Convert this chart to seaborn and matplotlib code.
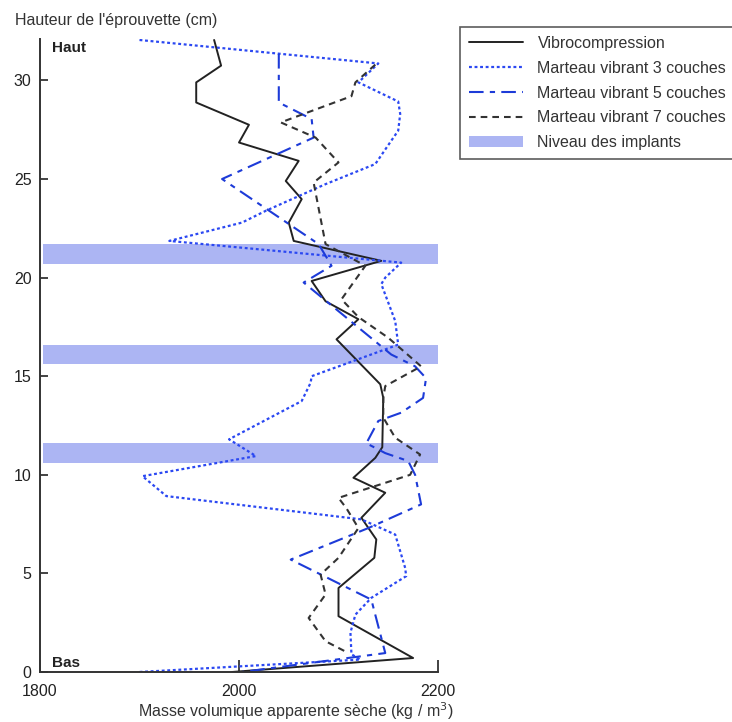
import numpy as np
import pandas as pd
import seaborn as sns
import matplotlib.pyplot as plt
from matplotlib.patches import Patch
from matplotlib.lines import Line2D

## Data (masse in kg/m3, hauteur in cm)
vibro_x = [1975, 1982, 1957, 1957, 2010, 2000, 2060, 2047, 2063, 2050, 2055, 2143, 2073, 2087,
           2120, 2098, 2142, 2145, 2144, 2137, 2115, 2147, 2123, 2138, 2136, 2100, 2100, 2175, 1993]
vibro_y = [32.05, 30.75, 29.9, 28.88, 27.75, 26.85, 25.92, 24.9, 23.98, 22.79, 21.86, 20.85, 19.83, 18.8,
           17.89, 16.87, 14.59, 13.9, 11.4, 10.86, 9.85, 9.09, 7.82, 6.72, 5.79, 4.26, 2.83, 0.71, 0]

mv3_x = [1900, 2140, 2120, 2160, 2162, 2160, 2153, 2137, 2087, 2027, 2003, 1930, 2163, 2147, 2143,
         2157, 2160, 2073, 2072, 2063, 1990, 2017, 1903, 1927, 2123, 2157, 2167, 2168, 2133, 2117,
         2112, 2113, 2122, 1900]
mv3_y = [32.05, 30.86, 29.9, 28.93, 28.3, 27.45, 26.94, 25.76, 24.74, 23.39, 22.79, 21.86, 20.76, 20.0, 19.67,
         17.8, 16.6, 15.0, 14.67, 13.74, 11.8, 10.95, 9.93, 8.92, 7.74, 6.97, 5.28, 4.86, 3.76, 2.91,
         2.0, 0.9, 0.63, 0]

mv5_x = [2040, 2040, 2073, 2075, 1983, 2080, 2093, 2065, 2153, 2177, 2188, 2185, 2163, 2140, 2128,
         2147, 2170, 2177, 2183, 2130, 2052, 2133, 2147, 2003]
mv5_y = [31.34, 28.88, 28.04, 27.1, 25.0, 21.7, 20.6, 19.75, 16.1, 15.5, 14.9, 13.9, 13.15, 12.73, 11.6,
         11.1, 10.7, 10.0, 8.5, 7.3, 5.7, 3.67, 0.96, 0]

mv7_x = [2137, 2117, 2113, 2042, 2077, 2100, 2075, 2087, 2127, 2103, 2120, 2150, 2183, 2147, 2145,
         2145, 2157, 2182, 2172, 2100, 2108, 2120, 2100, 2082, 2087, 2070, 2087, 2110]
mv7_y = [30.8, 29.9, 29.2, 27.87, 27.1, 25.84, 24.82, 21.7, 20.6, 18.9, 18.0, 16.95, 15.5, 14.5, 13.9,
         12.9, 11.88, 11.03, 10.0, 8.83, 8.3, 7.3, 5.79, 4.94, 3.93, 2.74, 1.56, 0.96]

implants = [21.2, 16.1, 11.1]
labels = ['Vibrocompression', 'Marteau vibrant 3 couches',
          'Marteau vibrant 5 couches', 'Marteau vibrant 7 couches']

series = [(vibro_x, vibro_y, '#222222', '-', 1.4),
          (mv3_x, mv3_y, '#2b48f2', (0, (1.3, 1.2)), 1.6),
          (mv5_x, mv5_y, '#1d3bd8', (0, (7, 3, 2.5, 3)), 1.5),
          (mv7_x, mv7_y, '#333333', (0, (3.2, 2.4)), 1.5)]

sns.set_style('ticks')
plt.rcParams['font.family'] = ['Liberation Sans', 'DejaVu Sans']
plt.rcParams['font.size'] = 11.5

fig = plt.figure(figsize=(7.32, 7.22), dpi=100)
ax = fig.add_axes([40 / 732, 1 - 672 / 722, 398 / 732, 633 / 722])

## bands for the implants
band_color = '#acb5f3'
for y in implants:
    ax.axhspan(y - 0.5, y + 0.5, xmin=0.008, xmax=1, color=band_color, lw=0, zorder=0)

for (x, y, c, ls, lw), lab in zip(series, labels):
    df = pd.DataFrame({'masse': x, 'hauteur': y})
    sns.lineplot(data=df, x='masse', y='hauteur', sort=False, estimator=None,
                 color=c, linestyle=ls, linewidth=lw, ax=ax, label=lab, legend=False)

ax.set_xlim(1800, 2200)
ax.set_ylim(0, 32.1)
ax.set_xticks([1800, 2000, 2200])
ax.set_yticks([0, 5, 10, 15, 20, 25, 30])
ax.set_xlabel('')
ax.set_ylabel('')
ax.tick_params(axis='both', direction='in', colors='#222222', labelsize=11.5)
ax.tick_params(axis='y', length=6, width=1.2, pad=6)
ax.tick_params(axis='x', length=9, width=1.2, pad=9)
sns.despine(ax=ax)
for s in ['left', 'bottom']:
    ax.spines[s].set_color('#333333')
    ax.spines[s].set_linewidth(1.4)

ax.text(1812, 31.65, 'Haut', fontsize=11, fontweight='bold', va='center', ha='left', color='#222222')
ax.text(1812, 0.45, 'Bas', fontsize=11, fontweight='bold', va='center', ha='left', color='#222222')

fig.text(15 / 732, 1 - 20 / 722, "Hauteur de l'éprouvette (cm)", fontsize=11.5,
         ha='left', va='center', color='#333333')
fig.text(296 / 732, 1 - 711 / 722, 'Masse volumique apparente sèche (kg / m$^3$)', fontsize=11.5,
         ha='center', va='center', color='#333333')

handles = [Line2D([], [], color=c, linestyle=ls, linewidth=lw) for (_, _, c, ls, lw) in series]
handles.append(Patch(facecolor=band_color, edgecolor='none'))
leg = fig.legend(handles, labels + ['Niveau des implants'], loc='upper left',
                 bbox_to_anchor=(460 / 732, 1 - 27 / 722), frameon=True, fancybox=False,
                 fontsize=11.5, handlelength=3.4, handletextpad=0.9, labelspacing=0.62,
                 borderpad=0.55, borderaxespad=0)
leg.get_frame().set_edgecolor('#333333')
leg.get_frame().set_linewidth(1.2)
for t in leg.get_texts():
    t.set_color('#333333')

fig.savefig('out.png', dpi=100)
